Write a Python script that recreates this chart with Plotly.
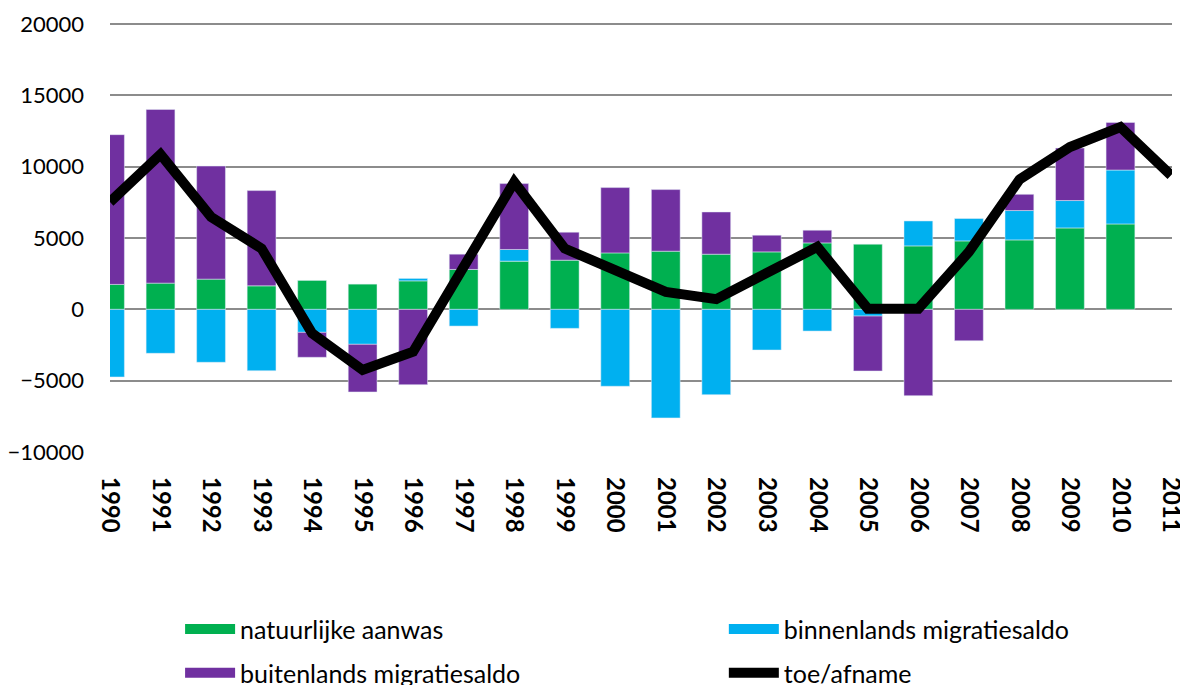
import plotly.graph_objects as go

# Bevolkingsontwikkeling per jaar (componenten)
jaren_balken = list(range(1990, 2011))
jaren_lijn = list(range(1990, 2012))

natuurlijke_aanwas = [1750, 1840, 2120, 1650, 2030, 1770, 2000, 2800, 3380, 3450, 3960,
                      4080, 3870, 4030, 4660, 4570, 4450, 4800, 4870, 5710, 5990]
binnenlands_saldo = [-4740, -3080, -3710, -4300, -1610, -2450, 170, -1170, 820, -1330, -5390,
                     -7610, -5980, -2850, -1520, -470, 1750, 1570, 2060, 1920, 3780]
buitenlands_saldo = [10500, 12180, 7930, 6680, -1750, -3340, -5280, 1070, 4620, 1960, 4580,
                     4320, 2960, 1170, 890, -3850, -6050, -2200, 1140, 3680, 3340]
toe_afname = [7530, 10870, 6480, 4270, -1680, -4250, -2970, 2910, 8930, 4270, 2750,
              1230, 720, 2540, 4380, 50, 50, 4030, 9100, 11380, 12780, 9400]

FONT = "Lato"

reeksen = [
    ("natuurlijke aanwas", natuurlijke_aanwas, "#00B050", "legend"),
    ("binnenlands migratiesaldo", binnenlands_saldo, "#00B0F0", "legend2"),
    ("buitenlands migratiesaldo", buitenlands_saldo, "#7030A0", "legend3"),
]

fig = go.Figure()
for naam, waarden, kleur, leg in reeksen:
    fig.add_trace(go.Bar(x=jaren_balken, y=waarden, name=naam, marker_color=kleur,
                         width=0.57, legendgroup=naam, showlegend=False))
    # wide swatch for the legend (Excel-style rectangle)
    fig.add_trace(go.Scatter(x=[None], y=[None], mode="lines", name=naam,
                             line=dict(color=kleur, width=14), legendgroup=naam,
                             legend=leg))
fig.add_trace(go.Scatter(x=jaren_lijn, y=toe_afname, name="toe/afname", mode="lines",
                         line=dict(color="black", width=10), cliponaxis=False,
                         legend="legend4"))

leg_font = dict(family=FONT, size=25, color="black")
def legend_pos(x, y):
    return dict(orientation="h", x=x, xanchor="left", y=y, yanchor="middle",
                font=leg_font, bgcolor="rgba(0,0,0,0)", itemwidth=50)

# page body has an 8px margin, so the figure is 8px smaller than the window
fig.update_layout(
    width=1180, height=677,
    barmode="relative",
    plot_bgcolor="white", paper_bgcolor="white",
    margin=dict(l=102, r=16, t=14, b=233, autoexpand=False),
    font=dict(family=FONT, size=22, color="black"),
    legend=legend_pos(0.066, -0.412),
    legend2=legend_pos(0.578, -0.412),
    legend3=legend_pos(0.066, -0.514),
    legend4=legend_pos(0.578, -0.514),
)
fig.update_xaxes(range=[1990, 2011.02], tickmode="linear", tick0=1990, dtick=1,
                 tickangle=90, automargin=False,
                 tickfont=dict(family=FONT, size=24, color="black", weight="bold"),
                 showgrid=False, zeroline=False, showline=False, ticks="",
                 ticklabelstandoff=24)
# top slightly above 20000 so its gridline is still drawn
fig.update_yaxes(range=[-10000, 20150], tickmode="linear", tick0=-10000, dtick=5000,
                 tickformat="d", automargin=False,
                 showgrid=True, gridcolor="#8c8c8c", gridwidth=1.5,
                 zeroline=True, zerolinecolor="#8c8c8c", zerolinewidth=1.5,
                 showline=False, ticks="", ticklabelstandoff=25,
                 tickfont=dict(family=FONT, size=22, color="black"))

fig.write_html("out.html")
